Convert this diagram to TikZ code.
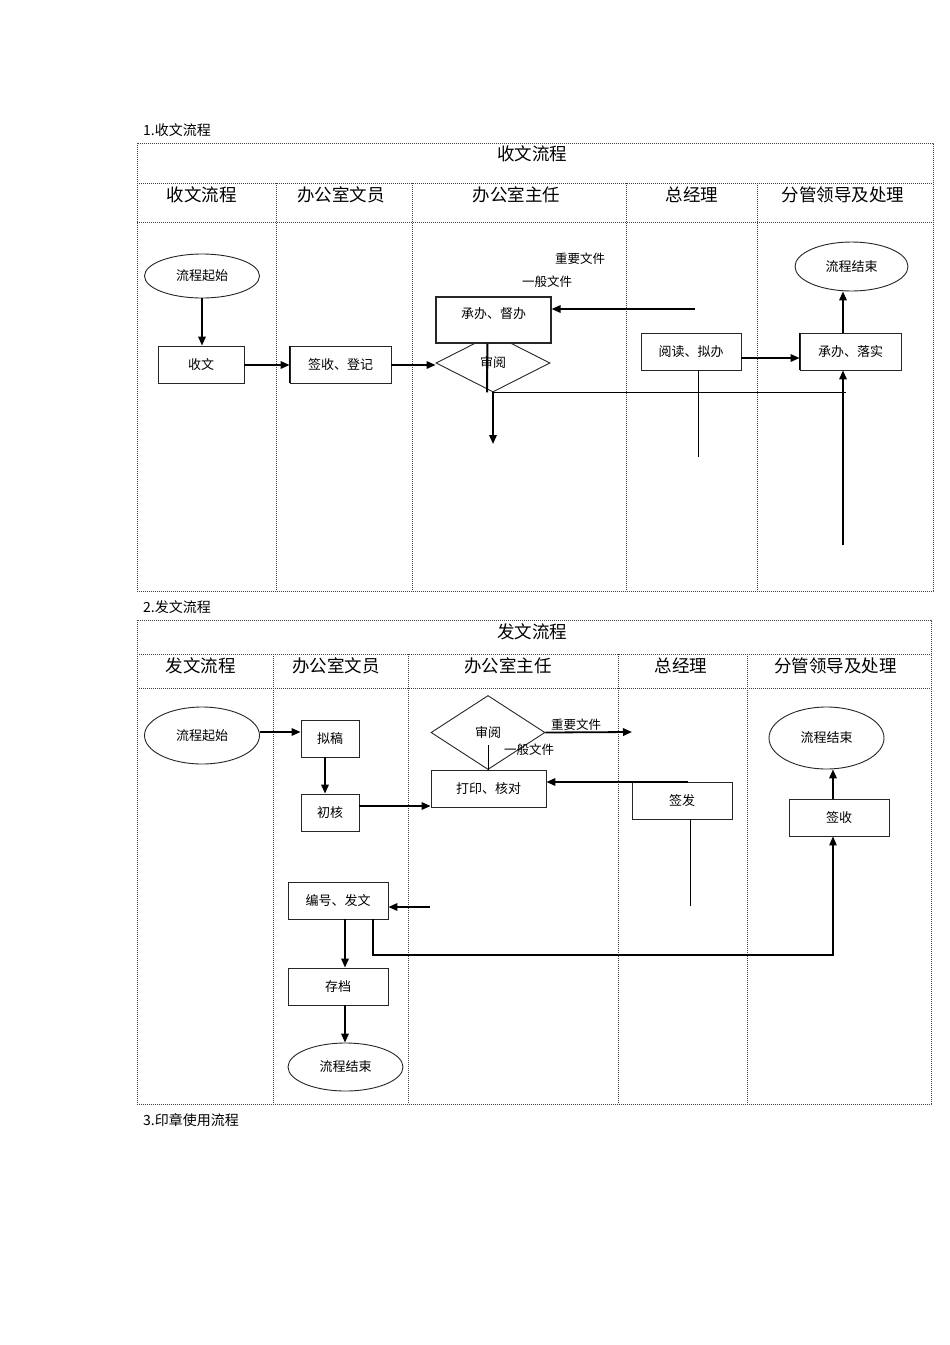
\documentclass[tikz,border=0pt]{standalone}
\usepackage{fontspec}
\setmainfont{Noto Sans CJK SC}
\usetikzlibrary{shapes.geometric,arrows.meta}
\begin{document}
\begin{tikzpicture}[x=1pt,y=-1pt,
  lane/.style={draw=black!75, line width=0.8pt, dash pattern=on 1.2pt off 0.8pt},
  box/.style={draw=black!85, line width=0.9pt, fill=white, minimum width=#1, minimum height=37pt, inner sep=0pt, font=\fontsize{13}{13}\selectfont},
  box/.default=100pt,
  oval/.style={draw=black!85, ellipse, line width=0.9pt, minimum width=115pt, inner sep=0pt, font=\fontsize{13}{13}\selectfont},
  dia/.style={draw=black!85, diamond, line width=0.9pt, inner sep=0pt, font=\fontsize{13}{13}\selectfont},
  arr/.style={line width=1.8pt, -{Triangle[length=9pt,width=7.5pt]}},
  arrthin/.style={line width=1.1pt, -{Triangle[length=9pt,width=7.5pt]}},
  thin/.style={line width=1pt},
  hdr/.style={font=\fontsize{17.5}{17.5}\selectfont},
  lbl/.style={font=\fontsize{12.5}{12.5}\selectfont},
  sec/.style={font=\fontsize{14}{14}\selectfont, anchor=west, inner sep=0pt}
]
\useasboundingbox (0,0) rectangle (950,1345);
\fill[white] (0,0) rectangle (950,1345);

% ---------------- Section 1 ----------------
\node[sec] (sec1) at (143,130) {1.收文流程};
\draw[lane] (137,143) rectangle (933,591);
\draw[lane] (137,183) -- (933,183);
\draw[lane] (137,222) -- (933,222);
\foreach \x in {276,412,626,757} \draw[lane] (\x,183) -- (\x,591);
\node[hdr] (h1) at (532,154) {收文流程};
\node[hdr] (h1a) at (201.5,195) {收文流程};
\node[hdr] (h1b) at (341,195) {办公室文员};
\node[hdr] (h1c) at (516.5,195) {办公室主任};
\node[hdr] (h1d) at (692,195) {总经理};
\node[hdr] (h1e) at (843,195) {分管领导及处理};

\node[oval, minimum height=44pt] (s1) at (202,276) {流程起始};
\node[box=86pt] (r1) at (201,364.5) {收文};
\node[box=101pt] (r2) at (340.5,364.5) {签收、登记};
\draw[line width=1.8pt] (r2.north west) -- (r2.south west);
\node[dia, minimum width=114pt, minimum height=58pt] (d1) at (493,363) {审阅};
\node[box=115pt, minimum height=0pt, inner ysep=5pt, text height=16pt, text depth=20pt, line width=1.3pt] (r3) at (493.5,320) {承办、督办};
\draw[line width=2pt] ([xshift=-6pt]r3.south) -- ([xshift=-6pt]d1.south);
\node[lbl] (l1) at (580,259) {重要文件};
\node[lbl] (l2) at (547,282) {一般文件};
\node[box=100pt] (r4) at (691,351.5) {阅读、拟办};
\node[box=101pt] (r5) at (850.5,351.5) {承办、落实};
\draw[line width=1.8pt] (r5.north west) -- (r5.south west);
\node[oval, minimum width=113pt, minimum height=49pt] (e1) at (851.5,266.5) {流程结束};

\coordinate (c1) at (846,392);
\coordinate (c2) at (493,444);
\coordinate (c3) at (695,309);
\coordinate (c4) at (698,457);
\coordinate (c5) at (843,545);
\coordinate (c0) at (0,365);

\draw[arr] (s1.south) -- (r1.north -| s1.south);
\draw[arr] (r1.east |- c0) -- (r2.west |- c0);
\draw[arr] (r2.east |- c0) -- (d1.west |- c0);
\draw[thin] (d1.south) -- (d1.south -| c1);
\draw[arr] (d1.south) -- (c2);
\draw[arr] (c3) -- (c3 -| r3.east);
\draw[thin] (c4 |- r4.south) -- (c4);
\draw[arr] (r4.east |- 0,358) -- (r5.west |- 0,358);
\draw[arr] (r5.north -| c5) -- (e1.south -| c5);
\draw[arr] (c5) -- (c5 |- r5.south);

% ---------------- Section 2 ----------------
\node[sec] (sec2) at (143,607) {2.发文流程};
\draw[lane] (137,620) rectangle (931,1104);
\draw[lane] (137,654) -- (931,654);
\draw[lane] (137,688) -- (931,688);
\foreach \x in {273,408,618,747} \draw[lane] (\x,654) -- (\x,1104);
\node[hdr] (h2) at (532,632) {发文流程};
\node[hdr] (h2a) at (200.5,666) {发文流程};
\node[hdr] (h2b) at (336,666) {办公室文员};
\node[hdr] (h2c) at (508,666) {办公室主任};
\node[hdr] (h2d) at (681,666) {总经理};
\node[hdr] (h2e) at (835.5,666) {分管领导及处理};

\node[oval, minimum height=57pt] (s2) at (202,735.5) {流程起始};
\node[box=58pt] (r6) at (330,738.5) {拟稿};
\node[box=58pt] (r7) at (330,812.5) {初核};
\node[dia, minimum width=114pt, minimum height=74pt] (d2) at (488,732.5) {审阅};
\node[box=115pt] (r8) at (488.5,788.5) {打印、核对};
\node[lbl] (l3) at (576,725) {重要文件};
\node[lbl] (l4) at (529,750) {一般文件};
\node[box=100pt] (r9) at (682,800.5) {签发};
\node[box=100pt] (r10) at (839,817.5) {签收};
\node[oval, minimum height=62pt] (e2) at (826.5,738) {流程结束};
\node[box=100pt] (r11) at (338,900.5) {编号、发文};
\node[box=100pt] (r12) at (338,986.5) {存档};
\node[oval, minimum height=48pt] (e3) at (345.5,1067) {流程结束};

\coordinate (c6) at (488,745);
\coordinate (c7) at (632,732);
\coordinate (c8) at (688,782);
\coordinate (c9) at (690,906);
\coordinate (c10) at (430,907);
\coordinate (c11) at (833,955);
\coordinate (c12) at (373,955);
\coordinate (c13) at (325,0);
\coordinate (c14) at (345,0);

\draw[arr] (s2.east |- c7) -- (r6.west |- c7);
\draw[arr] (r6.south -| c13) -- (r7.north -| c13);
\draw[arr] (r7.east |- 0,806) -- (r8.west |- 0,806);
\draw[thin] (c6) -- (r8.north -| c6);
\draw[arr] (d2.east) -- (c7);
\draw[arr] (c8) -- (c8 -| r8.east);
\draw[thin] (c9 |- r9.south) -- (c9);
\draw[arr] (r10.north -| c11) -- (e2.south -| c11);
\draw[arr] (c10) -- (c10 -| r11.east);
\draw[arrthin] (r11.south -| c12) -- (c12) -- (c11) -- (r10.south -| c11);
\draw[arr] (r11.south -| c14) -- (r12.north -| c14);
\draw[arr] (r12.south -| c14) -- (e3.north -| c14);

\node[sec] (sec3) at (143,1120) {3.印章使用流程};
\end{tikzpicture}
\end{document}
